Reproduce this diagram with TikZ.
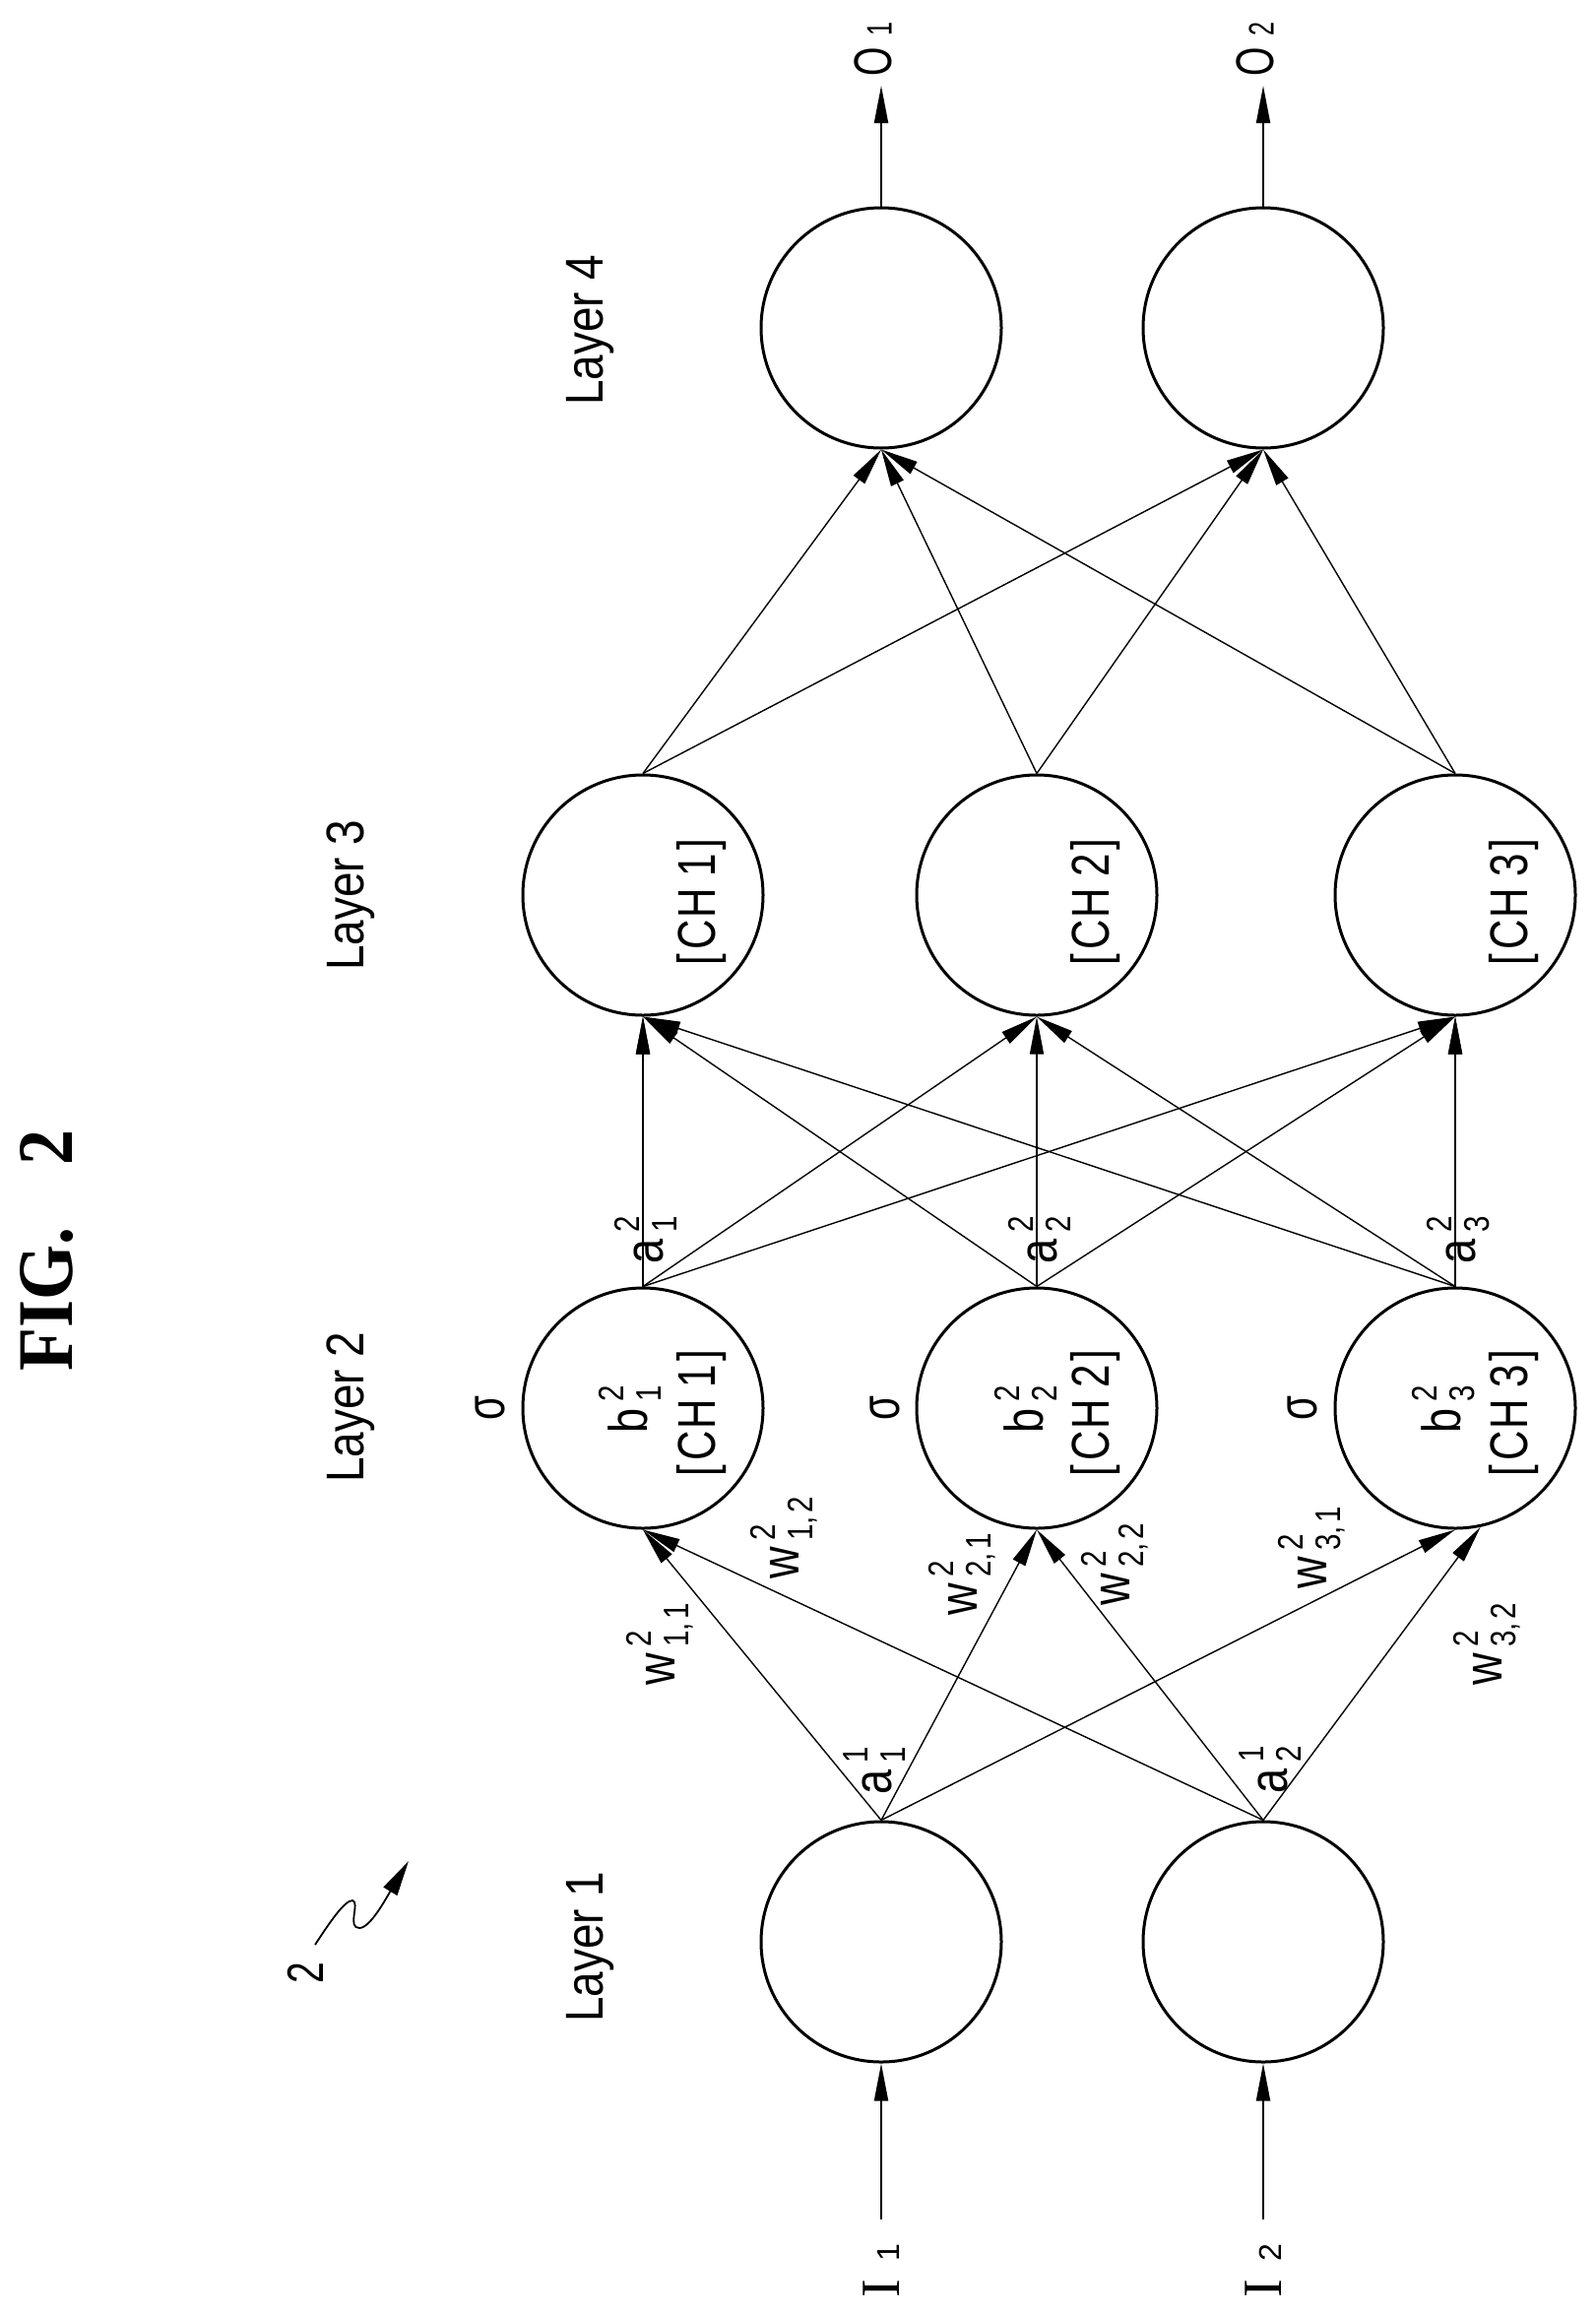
\documentclass[tikz,border=0pt]{standalone}
\usepackage{fontspec}
\usepackage{graphicx}
\setmainfont{Liberation Sans}
\newfontfamily\serifbody{Liberation Serif}
\usetikzlibrary{arrows.meta}
\newcommand\fs[1]{\fontsize{#1}{#1}\selectfont}
\newcommand\stk[3]{\scalebox{.82}[1]{\mbox{\fs{27.5}#1}\hspace{4pt}\mbox{\fs{18}\rlap{\raisebox{12pt}{#2}}\raisebox{-7pt}{#3}}}}
\newcommand\chl[1]{\scalebox{.78}[1]{\fs{27}[\hspace{2.5pt}C\hspace{1pt}H #1\hspace{2.5pt}]}}
\newcommand\lay[1]{\scalebox{.85}[1]{\fs{27}Layer #1}}
\tikzset{
  neuron/.style={draw,circle,line width=1.5pt,minimum size=122pt,inner sep=0pt},
  lbl/.style={rotate=90,inner sep=0pt,outer sep=0pt},
  layerlbl/.style={lbl,anchor=base},
  link/.style={line width=.7pt,-{Triangle[length=19pt,width=7pt]}},
  linkb/.style={link,line width=1pt},
}
\begin{document}
\begin{tikzpicture}[x=0.5pt,y=-0.5pt]
\useasboundingbox (0,0) rectangle (1621,2350);
% neurons
\node[neuron] (A1) at (895,1972) {};
\node[neuron] (A2) at (1283,1972) {};
\node[neuron] (B1) at (653,1430) {};
\node[neuron] (B2) at (1053,1430) {};
\node[neuron] (B3) at (1478,1430) {};
\node[neuron] (C1) at (653,909) {};
\node[neuron] (C2) at (1053,909) {};
\node[neuron] (C3) at (1478,909) {};
\node[neuron] (D1) at (895,333) {};
\node[neuron] (D2) at (1283,333) {};
% free ends
\coordinate (I1e) at (895,2254);
\coordinate (I2e) at (1283,2254);
\coordinate (O1e) at (895,87);
\coordinate (O2e) at (1283,87);
% connectors
\draw[linkb] (I1e) -- (A1.south);
\draw[linkb] (I2e) -- (A2.south);
\foreach \s in {A1,A2}{
  \draw[link] (\s.north) -- (B1.south);
  \draw[link] (\s.north) -- (B2.south);
}
\draw[link] (A1.north) -- (B3.south);
\draw[link] (A2.north) -- (B3.-78);
\foreach \s in {B1,B2,B3}{\foreach \t in {C1,C2,C3}{
  \draw[link] (\s.north) -- (\t.south);
}}
\draw[linkb] (B1.north) -- (C1.south);
\draw[linkb] (B3.north) -- (C3.south);
\foreach \s in {C1,C2,C3}{\foreach \t in {D1,D2}{
  \draw[link] (\s.north) -- (\t.south);
}}
\draw[linkb] (D1.north) -- (O1e);
\draw[linkb] (D2.north) -- (O2e);
% reference squiggle
\coordinate (sqa) at (320,1975);
\coordinate (sqb) at (415,1890);
\draw[link,line width=.9pt,-{Triangle[length=18pt,width=8pt]}] (sqa)
  .. controls (335,1952) and (350,1930) .. (358,1930)
  .. controls (366,1932) and (352,1958) .. (365,1958)
  .. controls (376,1958) and (392,1928) .. (sqb);
% layer labels
\node[layerlbl] (L1) at (612,1977) {\lay{1}};
\node[layerlbl] (L2) at (369,1429) {\lay{2}};
\node[layerlbl] (L3) at (369,909) {\lay{3}};
\node[layerlbl] (L4) at (612,335) {\lay{4}};
% a, w, b labels
\node[lbl] (a11) at (888,1798) {\stk{a}{1}{1}};
\node[lbl] (a12) at (1290,1797) {\stk{a}{1}{2}};
\node[lbl] (w11) at (670,1670) {\stk{w}{2}{1,\hspace{2pt}1}};
\node[lbl] (w12) at (796,1562) {\stk{w}{2}{1,\hspace{2pt}2}};
\node[lbl] (w21) at (977,1599) {\stk{w}{2}{2,\hspace{2pt}1}};
\node[lbl] (w22) at (1132,1589) {\stk{w}{2}{2,\hspace{2pt}2}};
\node[lbl] (w31) at (1332,1572) {\stk{w}{2}{3,\hspace{2pt}1}};
\node[lbl] (w32) at (1510,1670) {\stk{w}{2}{3,\hspace{2pt}2}};
\node[lbl] (a21) at (656,1259) {\stk{a}{2}{1}};
\node[lbl] (a22) at (1056,1259) {\stk{a}{2}{2}};
\node[lbl] (a23) at (1481,1259) {\stk{a}{2}{3}};
\node[lbl] (s1) at (498,1430) {\scalebox{.72}[1]{\fs{28}σ}};
\node[lbl] (s2) at (899,1430) {\scalebox{.72}[1]{\fs{28}σ}};
\node[lbl] (s3) at (1323,1430) {\scalebox{.72}[1]{\fs{28}σ}};
\node[lbl] (b1) at (640,1431) {\stk{b}{2}{1}};
\node[lbl] (b2) at (1042,1431) {\stk{b}{2}{2}};
\node[lbl] (b3) at (1466,1431) {\stk{b}{2}{3}};
\node[lbl] (ch1) at (713,1435) {\chl{1}};
\node[lbl] (ch2) at (1113,1435) {\chl{2}};
\node[lbl] (ch3) at (1538,1435) {\chl{3}};
\node[lbl] (ch4) at (713,916) {\chl{1}};
\node[lbl] (ch5) at (1113,916) {\chl{2}};
\node[lbl] (ch6) at (1538,916) {\chl{3}};
% in/out labels
\node[lbl] (I1) at (895,2306) {{\serifbody\fs{28}I}\hspace{9pt}{\fs{16}1}};
\node[lbl] (I2) at (1283,2306) {{\serifbody\fs{28}I}\hspace{9pt}{\fs{16}2}};
\node[lbl] (O1) at (887,50) {\scalebox{.7}[1]{{\fs{27}O}\hspace{8pt}{\fs{18}1}}};
\node[lbl] (O2) at (1275,50) {\scalebox{.7}[1]{{\fs{27}O}\hspace{8pt}{\fs{18}2}}};
\node[lbl] (ref) at (310.5,2003.5) {\scalebox{.75}[1]{\fs{26}2}};
\node[lbl] (fig) at (48,1270) {\scalebox{.9}[1]{\serifbody\bfseries\fs{40}FIG.\hspace{35pt}2}};
\end{tikzpicture}
\end{document}
